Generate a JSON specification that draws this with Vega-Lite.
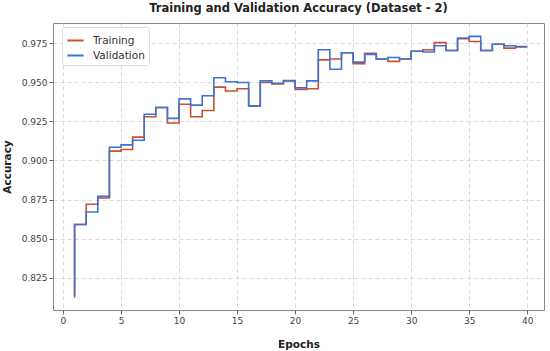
{
  "$schema": "https://vega.github.io/schema/vega-lite/v6.json",
  "width": 491,
  "height": 287,
  "autosize": {"type": "none"},
  "padding": {"left": 53, "top": 23, "right": 6, "bottom": 41},
  "title": {"text": "Training and Validation Accuracy (Dataset - 2)", "font": "DejaVu Sans", "fontSize": 11.5, "fontWeight": "bold", "color": "#222", "offset": 9},
  "data": {"values": [
    {"epoch": 1, "Training": 0.812, "Validation": 0.8135},
    {"epoch": 2, "Training": 0.859, "Validation": 0.859},
    {"epoch": 3, "Training": 0.872, "Validation": 0.867},
    {"epoch": 4, "Training": 0.876, "Validation": 0.877},
    {"epoch": 5, "Training": 0.906, "Validation": 0.9085},
    {"epoch": 6, "Training": 0.907, "Validation": 0.910},
    {"epoch": 7, "Training": 0.915, "Validation": 0.913},
    {"epoch": 8, "Training": 0.928, "Validation": 0.9296},
    {"epoch": 9, "Training": 0.934, "Validation": 0.934},
    {"epoch": 10, "Training": 0.924, "Validation": 0.927},
    {"epoch": 11, "Training": 0.936, "Validation": 0.9395},
    {"epoch": 12, "Training": 0.928, "Validation": 0.9355},
    {"epoch": 13, "Training": 0.932, "Validation": 0.9415},
    {"epoch": 14, "Training": 0.947, "Validation": 0.953},
    {"epoch": 15, "Training": 0.9445, "Validation": 0.9505},
    {"epoch": 16, "Training": 0.946, "Validation": 0.950},
    {"epoch": 17, "Training": 0.935, "Validation": 0.935},
    {"epoch": 18, "Training": 0.950, "Validation": 0.951},
    {"epoch": 19, "Training": 0.949, "Validation": 0.9495},
    {"epoch": 20, "Training": 0.951, "Validation": 0.9512},
    {"epoch": 21, "Training": 0.9455, "Validation": 0.9465},
    {"epoch": 22, "Training": 0.946, "Validation": 0.951},
    {"epoch": 23, "Training": 0.9645, "Validation": 0.971},
    {"epoch": 24, "Training": 0.965, "Validation": 0.9585},
    {"epoch": 25, "Training": 0.969, "Validation": 0.969},
    {"epoch": 26, "Training": 0.962, "Validation": 0.963},
    {"epoch": 27, "Training": 0.9687, "Validation": 0.968},
    {"epoch": 28, "Training": 0.965, "Validation": 0.965},
    {"epoch": 29, "Training": 0.9635, "Validation": 0.966},
    {"epoch": 30, "Training": 0.965, "Validation": 0.965},
    {"epoch": 31, "Training": 0.970, "Validation": 0.970},
    {"epoch": 32, "Training": 0.971, "Validation": 0.9695},
    {"epoch": 33, "Training": 0.9755, "Validation": 0.9735},
    {"epoch": 34, "Training": 0.9705, "Validation": 0.9705},
    {"epoch": 35, "Training": 0.978, "Validation": 0.9785},
    {"epoch": 36, "Training": 0.9762, "Validation": 0.9795},
    {"epoch": 37, "Training": 0.9705, "Validation": 0.9705},
    {"epoch": 38, "Training": 0.9745, "Validation": 0.9745},
    {"epoch": 39, "Training": 0.972, "Validation": 0.9735},
    {"epoch": 40, "Training": 0.9728, "Validation": 0.973}
  ]},
  "transform": [{"fold": ["Training", "Validation"], "as": ["series", "accuracy"]}],
  "mark": {"type": "line", "interpolate": "step-before", "strokeWidth": 1.6},
  "encoding": {
    "x": {"field": "epoch", "type": "quantitative", "title": "Epochs",
      "scale": {"domain": [-0.86, 41.45], "nice": false, "zero": false},
      "axis": {"values": [0, 5, 10, 15, 20, 25, 30, 35, 40], "format": "d", "titlePadding": 14}},
    "y": {"field": "accuracy", "type": "quantitative", "title": "Accuracy",
      "scale": {"domain": [0.8042, 0.9881], "nice": false, "zero": false},
      "axis": {"values": [0.825, 0.85, 0.875, 0.9, 0.925, 0.95, 0.975], "format": ".3f", "titlePadding": 9}},
    "color": {"field": "series", "type": "nominal", "title": null,
      "scale": {"domain": ["Training", "Validation"], "range": ["#c9502e", "#3b74d6"]},
      "legend": {"orient": "none", "legendX": 9, "legendY": 4, "symbolType": "stroke", "symbolSize": 260, "symbolStrokeWidth": 2,
        "labelFontSize": 10.5, "labelFont": "DejaVu Sans", "labelColor": "#333", "fillColor": "white", "strokeColor": "#ddd",
        "padding": 4, "cornerRadius": 3, "rowPadding": 0, "labelOffset": 8}}
  },
  "config": {
    "font": "DejaVu Sans",
    "view": {"stroke": "#888", "strokeWidth": 1},
    "axis": {"domain": false, "tickColor": "#666", "tickSize": 4, "labelFontSize": 9, "labelColor": "#444", "labelFont": "DejaVu Sans",
      "titleFont": "DejaVu Sans", "titleFontSize": 10.5, "titleFontWeight": "bold", "titleColor": "#222",
      "grid": true, "gridColor": "#d0d0d0", "gridDash": [4, 3], "gridWidth": 0.8}
  }
}
